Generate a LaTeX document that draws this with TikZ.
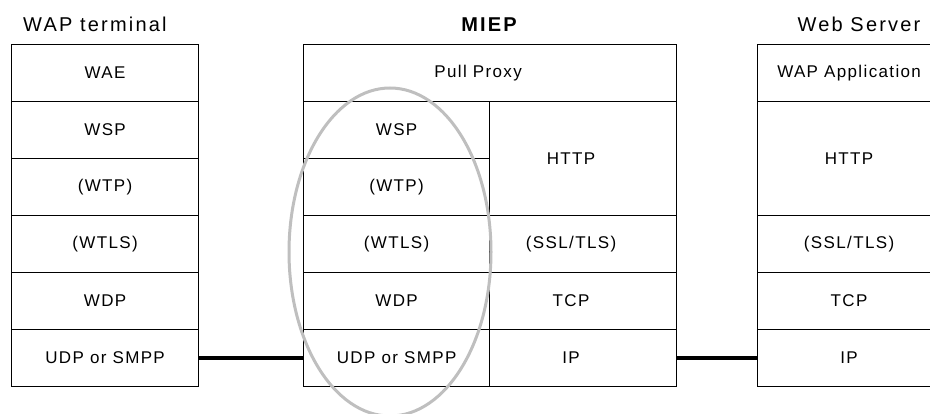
\documentclass[tikz,border=0pt]{standalone}
\usepackage{fontspec}
\setmainfont{Liberation Sans}[LetterSpace=8]
\newfontfamily\titlefont{Liberation Sans}[LetterSpace=11]
\usetikzlibrary{shapes.geometric}
\begin{document}
\begin{tikzpicture}[x=1pt,y=1pt,
  cell/.style={draw=black, line width=1.2pt, minimum height=57pt, inner sep=0pt,
    anchor=south west, font=\fontsize{17}{20}\selectfont},
  tall/.style={cell, minimum height=114pt},
  title/.style={inner sep=0pt, anchor=base, font=\titlefont\fontsize{20}{24}\selectfont},
  conn/.style={draw=black, line width=3.5pt},
  halo/.style={draw=black!25, line width=3pt, ellipse, inner sep=0pt}]
\useasboundingbox (0,0) rectangle (930,414);
\clip (0,0) rectangle (930,414);
% titles
\node[title, anchor=base west] (tWAP) at (23,382) {WAP terminal};
\node[title] (tMIEP) at (489,382) {\bfseries MIEP};
\node[title] (tWeb) at (859,382) {Web Server};
% WAP terminal stack
\node[cell, minimum width=187pt] (wae)  at (11,312) {WAE};
\node[cell, minimum width=187pt] (wspL) at (11,255) {WSP};
\node[cell, minimum width=187pt] (wtpL) at (11,198) {(WTP)};
\node[cell, minimum width=187pt] (wtlsL) at (11,141) {(WTLS)};
\node[cell, minimum width=187pt] (wdpL) at (11,84) {WDP};
\node[cell, minimum width=187pt] (udpL) at (11,27) {UDP or SMPP};
% MIEP stack
\node[cell, minimum width=373pt] (pull) at (303,312) {Pull Proxy\kern24pt};
\node[cell, minimum width=186pt] (wspM) at (303,255) {WSP};
\node[cell, minimum width=186pt] (wtpM) at (303,198) {(WTP)};
\node[cell, minimum width=186pt] (wtlsM) at (303,141) {(WTLS)};
\node[cell, minimum width=186pt] (wdpM) at (303,84) {WDP};
\node[cell, minimum width=186pt] (udpM) at (303,27) {UDP or SMPP};
\node[tall, minimum width=187pt] (httpM) at (489,198) {HTTP\kern24pt};
\node[cell, minimum width=187pt] (sslM) at (489,141) {(SSL/TLS)\kern24pt};
\node[cell, minimum width=187pt] (tcpM) at (489,84) {TCP\kern24pt};
\node[cell, minimum width=187pt] (ipM) at (489,27) {IP\kern24pt};
% Web server stack
\node[cell, minimum width=183pt] (wapapp) at (757,312) {WAP Application};
\node[tall, minimum width=183pt] (httpR) at (757,198) {HTTP};
\node[cell, minimum width=183pt] (sslR) at (757,141) {(SSL/TLS)};
\node[cell, minimum width=183pt] (tcpR) at (757,84) {TCP};
\node[cell, minimum width=183pt] (ipR) at (757,27) {IP};
% connectors
\draw[conn] (udpL.east) -- (udpM.west);
\draw[conn] (ipM.east) -- (ipR.west);
% highlight ellipse
\node[halo, minimum width=202pt, minimum height=328pt] (ring) at (390,162) {};
\end{tikzpicture}
\end{document}
